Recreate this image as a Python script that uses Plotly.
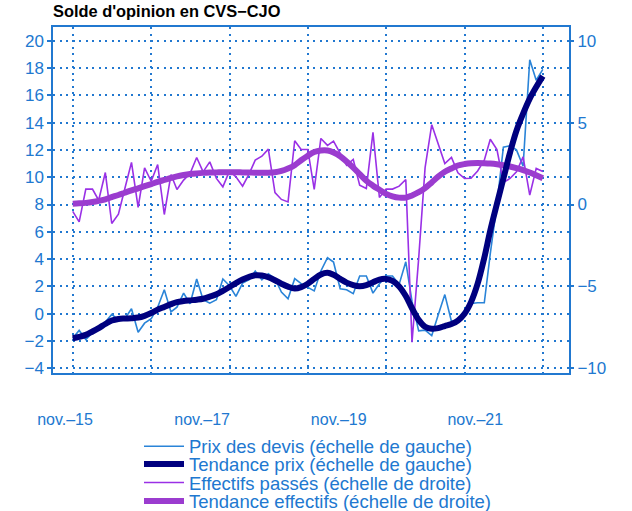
import plotly.graph_objects as go
import pandas as pd

# ---- data ----
months = pd.date_range("2015-11-01", periods=73, freq="MS")

prix_devis = [-1.79, -1.22, -1.88, -1.42, -0.93, -0.61, -0.05, -0.44, -0.37, 0.37,
              -1.35, -0.69, -0.37, 0.48, 1.76, 0.13, 0.48, 1.51, 0.73, 2.54,
              1.03, 0.78, 1.03, 2.54, 2.05, 1.27, 2.25, 2.49, 3.13, 2.49,
              2.93, 2.57, 1.59, 1.1, 2.57, 2.2, 1.96, 1.67, 3.13, 4.1,
              3.79, 1.83, 1.76, 1.47, 2.76, 2.76, 1.51, 2.2, 2.76, 2.76,
              2.15, 3.8, 0.9, -1.25, -1.2, -1.6, -0.1, 1.4, -0.57, -0.5,
              -0.1, 0.75, 0.8, 0.8, 4.4, 8.0, 12.2, 12.3, 12.0, 10.8,
              18.6, 17.1, 17.9]

tendance_prix = [-1.8, -1.7, -1.55, -1.3, -1.05, -0.75, -0.5, -0.38, -0.35, -0.33,
                 -0.28, -0.15, 0.05, 0.3, 0.5, 0.7, 0.85, 0.93, 0.98, 1.03,
                 1.1, 1.25, 1.42, 1.68, 1.96, 2.25, 2.5, 2.7, 2.82, 2.8,
                 2.67, 2.45, 2.2, 1.98, 1.85, 1.95, 2.2, 2.55, 2.88, 3.0,
                 2.85, 2.55, 2.28, 2.1, 2.02, 2.1, 2.3, 2.5, 2.55, 2.4,
                 2.0, 1.3, 0.4, -0.45, -0.95, -1.1, -1.05, -0.9, -0.75, -0.5,
                 0.0, 0.85, 2.2, 4.1, 6.1, 8.05, 9.9, 11.8, 13.4, 14.65,
                 15.75, 16.6, 17.4]

effectifs = [-0.42, -1.06, 0.94, 0.94, 0.26, 1.95, -1.16, -0.59, 0.98, 2.57,
             -0.18, 2.24, 1.42, 2.44, -0.61, 1.83, 0.92, 1.49, 1.89, 2.87,
             1.99, 2.6, 1.59, 1.08, 2.05, 1.69, 1.12, 1.89, 2.71, 2.95,
             3.38, 0.73, 0.31, 0.16, 3.89, 3.36, 3.36, 0.92, 4.03, 3.61,
             3.87, 3.12, 2.4, 2.75, 1.18, 0.98, 4.4, 0.43, 0.94, 0.94,
             1.12, 1.53, -8.4, -3.3, 2.25, 4.87, 3.73, 2.5, 2.87, 1.93,
             1.59, 1.6, 2.05, 2.71, 3.98, 3.35, 1.35, 1.59, 2.0, 2.91,
             0.57, 2.2, 2.02]

tendance_effectifs = [0.05, 0.07, 0.1, 0.15, 0.22, 0.32, 0.45, 0.58, 0.72, 0.86,
                      0.99, 1.12, 1.25, 1.38, 1.5, 1.62, 1.72, 1.8, 1.86, 1.9,
                      1.93, 1.95, 1.96, 1.97, 1.97, 1.97, 1.96, 1.95, 1.94, 1.94,
                      1.94, 1.97, 2.05, 2.2, 2.4, 2.7, 2.98, 3.2, 3.3, 3.3,
                      3.18, 2.95, 2.62, 2.25, 1.85, 1.45, 1.15, 0.9, 0.65, 0.5,
                      0.42, 0.42, 0.55, 0.75, 1.0, 1.35, 1.7, 2.0, 2.2, 2.38,
                      2.47, 2.52, 2.53, 2.52, 2.5, 2.46, 2.4, 2.32, 2.22, 2.1,
                      1.95, 1.78, 1.6]

x_tick_labels = ["nov.–15", "nov.–17", "nov.–19", "nov.–21"]
series_names = ["Prix des devis (échelle de gauche)",
                "Tendance prix (échelle de gauche)",
                "Effectifs passés (échelle de droite)",
                "Tendance effectifs (échelle de droite)"]

# ---- styles ----
BLUE_TXT = "#2178d0"
FONT = "Liberation Sans, Arial, sans-serif"
C_PRIX = "#2a84d8"
C_TPRIX = "#00007f"
C_EFF = "#9a30e6"
C_TEFF = "#9b3ccf"

fig = go.Figure()
fig.add_trace(go.Scatter(x=months, y=prix_devis, mode="lines", name=series_names[0],
                         line=dict(color=C_PRIX, width=1.6), yaxis="y", legend="legend"))
fig.add_trace(go.Scatter(x=months, y=effectifs, mode="lines", name=series_names[2],
                         line=dict(color=C_EFF, width=1.6), yaxis="y2", legend="legend3"))
fig.add_trace(go.Scatter(x=months, y=tendance_effectifs, mode="lines", name=series_names[3],
                         line=dict(color=C_TEFF, width=6, shape="spline"), yaxis="y2", legend="legend4"))
fig.add_trace(go.Scatter(x=months, y=tendance_prix, mode="lines", name=series_names[1],
                         line=dict(color=C_TPRIX, width=6, shape="spline"), yaxis="y3", legend="legend2"))
# empty helper trace so the label axis exists
fig.add_trace(go.Scatter(x=[], y=[], xaxis="x2", yaxis="y", showlegend=False, hoverinfo="skip"))

left_range = [-4.34, 21.0]
right_range = [(left_range[0] - 8) * 5 / 6, (left_range[1] - 8) * 5 / 6]

axis_font = dict(family=FONT, size=17, color=BLUE_TXT)

def legend_at(ypix):
    return dict(x=(139 - 53) / 516, y=(373 - ypix) / 346, xanchor="left", yanchor="middle",
                bgcolor="rgba(0,0,0,0)", borderwidth=0, itemwidth=40,
                font=dict(family=FONT, size=18.5, color=BLUE_TXT))

fig.update_layout(
    width=632, height=511,
    margin=dict(l=53, r=63, t=27, b=138, autoexpand=False),
    plot_bgcolor="white", paper_bgcolor="white",
    font=dict(family=FONT, color=BLUE_TXT),
    title=dict(text="Solde d'opinion en CVS−CJO", x=53 / 632, xanchor="left",
               y=1 - 11.5 / 511, yanchor="middle", yref="container",
               font=dict(family=FONT, size=16.4, color="black", weight="bold")),
    xaxis=dict(type="date", range=["2015-08-01", "2022-03-03"],
               tick0="2015-11-01", dtick="M12", showticklabels=False,
               showgrid=True, gridcolor=BLUE_TXT, griddash="2px,4.5px", gridwidth=1.5,
               showline=True, linecolor=BLUE_TXT, linewidth=1.5, mirror=True,
               ticks="", zeroline=False),
    xaxis2=dict(overlaying="x", anchor="y", side="bottom", range=[0, 1],
                tickvals=[0.0233, 0.289, 0.5537, 0.8184], ticktext=x_tick_labels,
                showgrid=False, zeroline=False, showline=False,
                ticks="outside", ticklen=32, tickcolor="rgba(0,0,0,0)",
                tickfont=dict(family=FONT, size=16, color=BLUE_TXT)),
    yaxis=dict(range=left_range, dtick=2, tick0=0, showgrid=True, gridcolor=BLUE_TXT,
               griddash="2px,4.5px", gridwidth=1.5, zeroline=False,
               showline=True, linecolor=BLUE_TXT, linewidth=1.5, mirror=True,
               ticks="outside", ticklen=4, tickcolor=BLUE_TXT, tickwidth=1.5,
               tickfont=axis_font),
    yaxis2=dict(range=right_range, dtick=5, tick0=0, overlaying="y", side="right",
                showgrid=False, zeroline=False, showline=False,
                ticks="outside", ticklen=4, tickcolor=BLUE_TXT, tickwidth=1.5,
                tickfont=axis_font),
    yaxis3=dict(range=left_range, overlaying="y", visible=False),
    legend=legend_at(446.7),
    legend2=legend_at(464.5),
    legend3=legend_at(483),
    legend4=legend_at(501.5),
    showlegend=True,
)

fig.write_html("out.html",
               config={"displayModeBar": False},
               post_script="document.body.style.margin='0px'; document.body.style.overflow='hidden';")
